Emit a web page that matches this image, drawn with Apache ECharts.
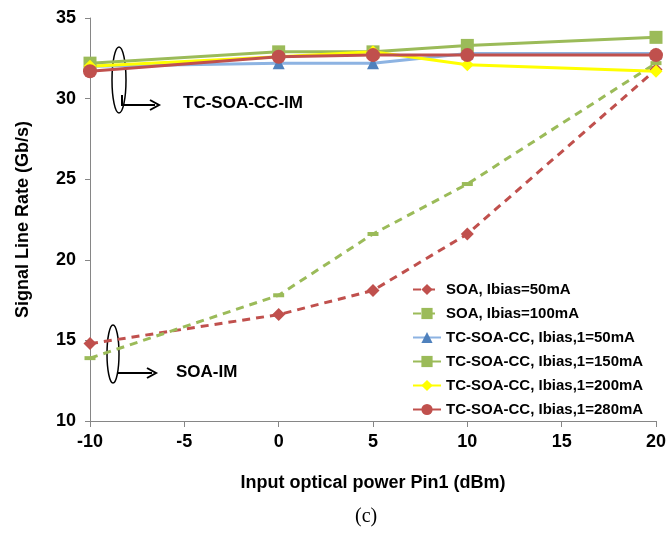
<!DOCTYPE html>
<html>
<head>
<meta charset="utf-8">
<script src="https://cdn.jsdelivr.net/npm/echarts@6/dist/echarts.min.js"></script>
<style>
  html, body { margin: 0; padding: 0; background: #fff; }
  #myChart { width: 671px; height: 536px; }
</style>
</head>
<body>
<div id="myChart"></div>
<script>
var xVals = [-10, 0, 5, 10, 20];
var soa50 = [14.8, 16.6, 18.1, 21.6, 31.8];
var soa100 = [13.9, 17.8, 21.6, 24.7, 32.2];
var tc50 = [32.0, 32.2, 32.2, 32.8, 32.8];
var tc150 = [32.2, 32.9, 32.9, 33.3, 33.8];
var tc200 = [32.0, 32.6, 32.9, 32.1, 31.7];
var tc280 = [31.7, 32.6, 32.7, 32.7, 32.7];
var names = ['SOA, Ibias=50mA', 'SOA, Ibias=100mA', 'TC-SOA-CC, Ibias,1=50mA',
    'TC-SOA-CC, Ibias,1=150mA', 'TC-SOA-CC, Ibias,1=200mA', 'TC-SOA-CC, Ibias,1=280mA'];

function pairs(ys) {
    var out = [];
    for (var i = 0; i < xVals.length; i++) out.push([xVals[i], ys[i]]);
    return out;
}

var font = 'Liberation Sans, Arial, sans-serif';
var myChart = echarts.init(document.querySelector('#myChart'));

function line(name, data, color, lineColor, symbol, size, dashed) {
    return {
        name: name,
        type: 'line',
        data: pairs(data),
        symbol: symbol,
        symbolSize: size,
        showSymbol: true,
        itemStyle: { color: color },
        lineStyle: { color: lineColor || color, width: 3, type: dashed ? [8, 6] : 'solid' },
        animation: false
    };
}

var option = {
    backgroundColor: '#fff',
    grid: { left: 90, top: 18, width: 566, height: 403 },
    xAxis: {
        type: 'value', min: -10, max: 20, interval: 5,
        name: 'Input optical power Pin1 (dBm)',
        nameLocation: 'middle', nameGap: 53,
        nameTextStyle: { fontFamily: font, fontWeight: 'bold', fontSize: 18, color: '#000' },
        axisLine: { onZero: false, lineStyle: { color: '#868686', width: 1 } },
        axisTick: { show: true, length: 6, lineStyle: { color: '#868686' } },
        axisLabel: { fontFamily: font, fontWeight: 'bold', fontSize: 18, color: '#000', margin: 12 },
        splitLine: { show: false }
    },
    yAxis: {
        type: 'value', min: 10, max: 35, interval: 5,
        name: 'Signal Line Rate (Gb/s)',
        nameLocation: 'middle', nameGap: 58,
        nameTextStyle: { fontFamily: font, fontWeight: 'bold', fontSize: 18, color: '#000' },
        axisLine: { show: true, onZero: false, lineStyle: { color: '#868686', width: 1 } },
        axisTick: { show: true, length: 5, lineStyle: { color: '#868686' } },
        axisLabel: { fontFamily: font, fontWeight: 'bold', fontSize: 18, color: '#000', margin: 14 },
        splitLine: { show: false }
    },
    legend: {
        orient: 'vertical', left: 407, top: 277,
        itemWidth: 28, itemHeight: 14, itemGap: 9,
        itemStyle: { borderWidth: 0 },
        textStyle: { fontFamily: font, fontWeight: 'bold', fontSize: 15, color: '#000' },
        data: names
    },
    series: [
        line(names[0], soa50, '#C0504D', null, 'diamond', 13, true),
        line(names[1], soa100, '#9BBB59', null, 'rect', [11, 4], true),
        line(names[2], tc50, '#4F81BD', '#8DB3E2', 'triangle', 12, false),
        line(names[3], tc150, '#9BBB59', null, 'rect', 13, false),
        line(names[4], tc200, '#FFFF00', null, 'diamond', 13, false),
        line(names[5], tc280, '#C0504D', null, 'circle', 14, false)
    ],
    graphic: [
        { type: 'ellipse', shape: { cx: 119, cy: 80, rx: 7, ry: 33 }, style: { fill: 'none', stroke: '#000', lineWidth: 1.5 } },
        { type: 'polyline', shape: { points: [[122, 95], [122, 105], [155, 105]] }, style: { stroke: '#000', lineWidth: 2, fill: 'none' } },
        { type: 'polyline', shape: { points: [[150, 100], [159, 105], [150, 110]] }, style: { stroke: '#000', lineWidth: 2, fill: 'none' } },
        { type: 'text', left: 183, top: 95, style: { text: 'TC-SOA-CC-IM', font: 'bold 17px ' + font, fill: '#000' } },
        { type: 'ellipse', shape: { cx: 113, cy: 354, rx: 6, ry: 29 }, style: { fill: 'none', stroke: '#000', lineWidth: 1.5 } },
        { type: 'polyline', shape: { points: [[118, 373], [152, 373]] }, style: { stroke: '#000', lineWidth: 2, fill: 'none' } },
        { type: 'polyline', shape: { points: [[147, 368], [156, 373], [147, 378]] }, style: { stroke: '#000', lineWidth: 2, fill: 'none' } },
        { type: 'text', left: 176, top: 364, style: { text: 'SOA-IM', font: 'bold 17px ' + font, fill: '#000' } },
        { type: 'text', left: 355, top: 507, style: { text: '(c)', font: '20px Liberation Serif, Times New Roman, serif', fill: '#000' } }
    ]
};
myChart.setOption(option);
</script>
</body>
</html>
